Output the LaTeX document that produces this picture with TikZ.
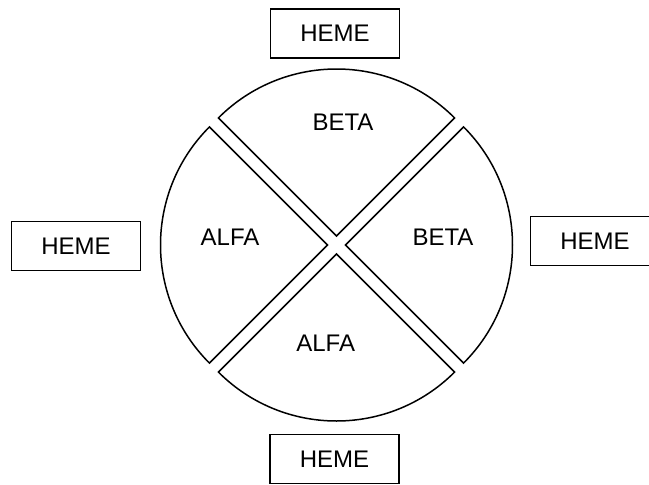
\documentclass[tikz,border=0pt]{standalone}
\usepackage{fontspec}
\setmainfont{Liberation Sans}
\begin{document}
\begin{tikzpicture}[x=1pt,y=-1pt,
    hemebox/.style={rectangle,draw=black,line width=1.8pt,minimum width=129pt,minimum height=49pt,font=\fontsize{24}{28}\selectfont},
    chainlabel/.style={font=\fontsize{24}{28}\selectfont},
    sector/.style={draw=black,line width=1.5pt,line join=miter}]

      \clip (0,0) rectangle (649,485);
      \coordinate (C) at (336.5,245);

      % the four chains
      \foreach \a in {0,90,180,270}
        \draw[sector,shift={(C)}] (\a:9) -- ++(\a-45:167) arc[start angle=\a-45,end angle=\a+45,radius=167] -- cycle;

      \node[chainlabel] (betatop) at (343,122){BETA};
      \node[chainlabel] (betaright) at (443,237.5){BETA};
      \node[chainlabel] (alfaleft) at (230,237.5){ALFA};
      \node[chainlabel] (alfabottom) at (325.7,343.7){ALFA};

      % heme groups
      \node[hemebox] (hemetop) at (335,33.5){HEME};
      \node[hemebox] (hemeleft) at (76,246){HEME};
      \node[hemebox] (hemeright) at (595,241){HEME};
      \node[hemebox] (hemebottom) at (334.5,459){HEME};

\end{tikzpicture}
\end{document}
